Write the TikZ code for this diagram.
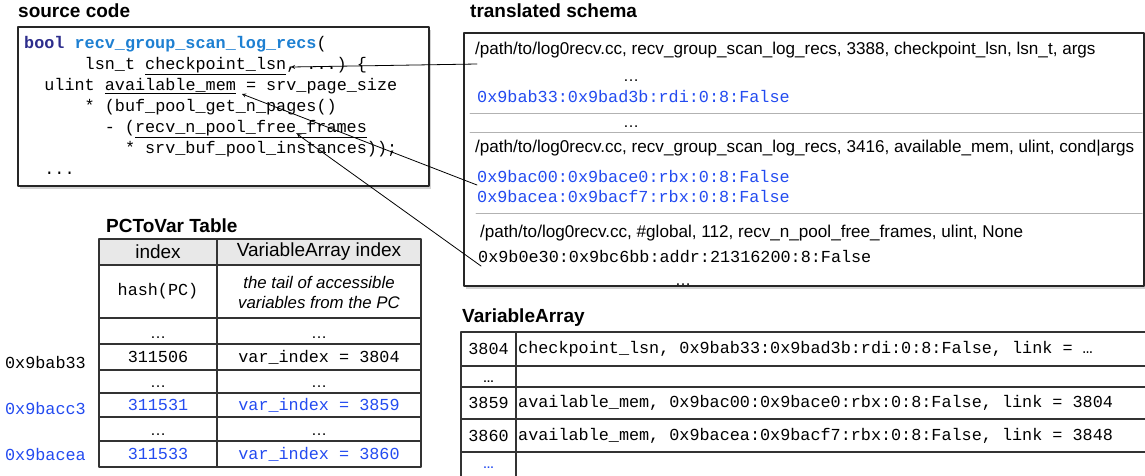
\documentclass[tikz,border=0pt]{standalone}
\usepackage{fontspec}
\setmainfont{Liberation Sans}
\setmonofont{Liberation Mono}
\usetikzlibrary{shadows}

\definecolor{addrblue}{RGB}{35,75,240}
\definecolor{fnblue}{RGB}{30,128,210}
\definecolor{kwnavy}{RGB}{45,45,140}

\tikzset{
  ttl/.style={anchor=base west, inner sep=0pt, font=\fontsize{19}{22}\selectfont\bfseries},
  src/.style={anchor=base west, inner sep=0pt, font=\fontsize{16.8}{20}\selectfont\ttfamily},
  sch/.style={anchor=base west, inner sep=0pt, font=\fontsize{17.1}{20}\selectfont},
  cell/.style={inner sep=0pt, font=\fontsize{16.8}{20}\selectfont\ttfamily},
  hdr/.style={inner sep=0pt, font=\fontsize{19}{22}\selectfont},
  dots/.style={anchor=base, inner sep=0pt, font=\fontsize{16}{20}\selectfont},
  sepline/.style={gray!60, line width=1pt},
  tbl/.style={black!80, line width=1.1pt},
  shadowbox/.style={draw=black!85, line width=1.1pt, fill=white,
    drop shadow={shadow xshift=1.5pt, shadow yshift=-2.5pt, opacity=.35}},
  link/.style={->, line width=0.8pt},
}

\begin{document}
\begin{tikzpicture}[x=1pt, y=-1pt, >=stealth, line join=round, line cap=round]
	\useasboundingbox (0,0) rectangle (1145,475);

	% 1. Source code
	\node[ttl] (srcttl) at (18,17.5) {source code};
	\path[shadowbox] (18,27) rectangle (429,186);
	\node[src] (ln1) at (24,48) {{\color{kwnavy}\bfseries bool} {\color{fnblue}\bfseries recv\_group\_scan\_log\_recs}(};
	\node[src] (ln2) at (84.5,69) {lsn\_t \underline{checkpoint\_lsn}, ...) \{};
	\node[src] (ln3) at (44.2,90) {ulint \underline{available\_mem} = srv\_page\_size};
	\node[src] (ln4) at (84.5,111) {* (buf\_pool\_get\_n\_pages()};
	\node[src] (ln5) at (104.6,132) {- (\underline{recv\_n\_pool\_free\_frames}};
	\node[src] (ln6) at (124.8,153) {* srv\_buf\_pool\_instances));};
	\node[src] (ln7) at (44.2,174) {...};

	% 2. Translated schema
	\node[ttl] (schttl) at (470,17) {translated schema};
	\path[shadowbox] (464,33) rectangle (1144,286);
	\node[sch] (p1) at (475,54) {/path/to/log0recv.cc, recv\_group\_scan\_log\_recs, 3388, checkpoint\_lsn, lsn\_t, args};
	\node[dots] (d1) at (631,81) {…};
	\node[src, addrblue] (a1) at (477,102) {0x9bab33:0x9bad3b:rdi:0:8:False};
	\draw[sepline] (470,113) -- (1142,113);
	\node[dots] (d2) at (631,127) {…};
	\draw[sepline] (470,132) -- (1142,132);
	\node[sch] (p2) at (475,152) {/path/to/log0recv.cc, recv\_group\_scan\_log\_recs, 3416, available\_mem, ulint, cond|args};
	\node[src, addrblue] (a2) at (477,182) {0x9bac00:0x9bace0:rbx:0:8:False};
	\node[src, addrblue] (a3) at (477,202) {0x9bacea:0x9bacf7:rbx:0:8:False};
	\draw[sepline] (476,213) -- (1142,213);
	\node[sch] (p3) at (480,237) {/path/to/log0recv.cc, \#global, 112, recv\_n\_pool\_free\_frames, ulint, None};
	\node[src] (a4) at (478,262) {0x9b0e30:0x9bc6bb:addr:21316200:8:False};
	\node[dots] (d3) at (683,285) {…};

	% 3. Links schema -> source
	\coordinate (from1) at (477,64);
	\coordinate (to1) at (291,67);
	\coordinate (from2) at (477,185);
	\coordinate (to2) at (242,94);
	\coordinate (from3) at (481,266);
	\coordinate (to3) at (297,134);
	\draw[link] (from1) -- (to1);
	\draw[link] (from2) -- (to2);
	\draw[link] (from3) -- (to3);

	% 4. PCToVar table
	\node[ttl] (pcttl) at (106,232) {PCToVar Table};
	\fill[gray!18] (99,239) rectangle (421,265);
	\foreach \y in {265,318,344,370,393,417,441}
		\draw[tbl] (99,\y) -- (421,\y);
	\draw[tbl] (99,239) rectangle (421,467);
	\draw[tbl] (217,239) -- (217,467);
	\node[hdr] (hidx) at (158,252) {index};
	\node[hdr] (hvar) at (319,252) {VariableArray index};
	\node[cell] (hash) at (158,291) {hash(PC)};
	\node[inner sep=0pt, align=center, font=\fontsize{16.8}{20}\selectfont\itshape] (tail) at (319,292) {the tail of accessible\\variables from the PC};
	\node[dots] (e1) at (158,338) {…};
	\node[dots] (f1) at (319,338) {…};
	\node[cell] (i1) at (158,357) {311506};
	\node[cell] (v1) at (319,357) {var\_index = 3804};
	\node[dots] (e2) at (158,387) {…};
	\node[dots] (f2) at (319,387) {…};
	\node[cell, addrblue] (i2) at (158,405) {311531};
	\node[cell, addrblue] (v2) at (319,405) {var\_index = 3859};
	\node[dots] (e3) at (158,435) {…};
	\node[dots] (f3) at (319,435) {…};
	\node[cell, addrblue] (i3) at (158,454) {311533};
	\node[cell, addrblue] (v3) at (319,454) {var\_index = 3860};
	\node[cell, anchor=east] (pc1) at (86,362) {0x9bab33};
	\node[cell, anchor=east, addrblue] (pc2) at (86,408) {0x9bacc3};
	\node[cell, anchor=east, addrblue] (pc3) at (86,454) {0x9bacea};

	% 5. VariableArray
	\node[ttl] (varttl) at (462,322) {VariableArray};
	\foreach \y in {366,387,419,452}
		\draw[tbl] (461,\y) -- (1150,\y);
	\draw[tbl] (1150,332) -- (461,332) -- (461,480);
	\draw[tbl] (516,332) -- (516,480);
	\node[cell] (r1) at (488.5,349) {3804};
	\node[cell, anchor=west] (t1) at (518,349) {checkpoint\_lsn, 0x9bab33:0x9bad3b:rdi:0:8:False, link = …};
	\node[dots, font=\fontsize{11}{12}\selectfont\bfseries] (r2) at (488.5,382) {…};
	\node[cell] (r3) at (488.5,403) {3859};
	\node[cell, anchor=west] (t3) at (518,403) {available\_mem, 0x9bac00:0x9bace0:rbx:0:8:False, link = 3804};
	\node[cell] (r4) at (488.5,435.5) {3860};
	\node[cell, anchor=west] (t4) at (518,435.5) {available\_mem, 0x9bacea:0x9bacf7:rbx:0:8:False, link = 3848};
	\node[dots, addrblue, font=\fontsize{11}{12}\selectfont\bfseries] (r5) at (488.5,468) {…};
\end{tikzpicture}
\end{document}
